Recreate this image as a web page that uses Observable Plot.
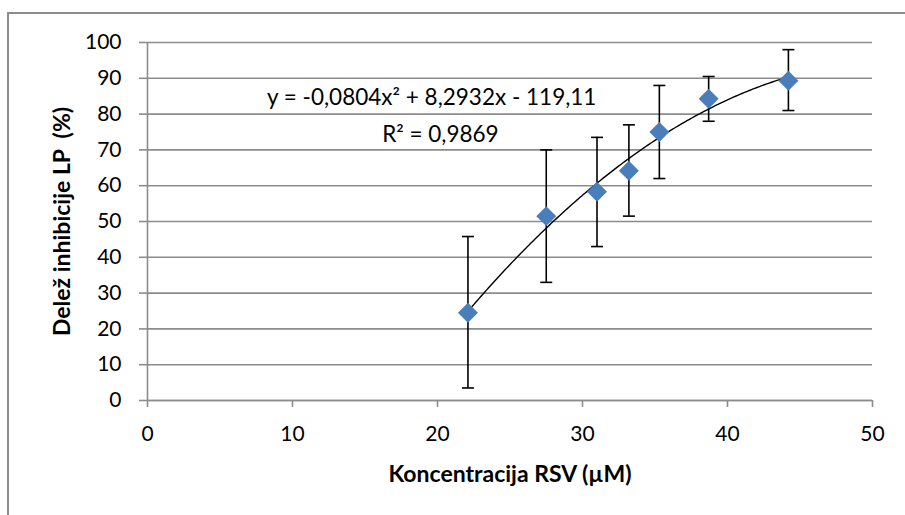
<!DOCTYPE html>
<html>
<head>
<meta charset="utf-8">
<script src="https://cdn.jsdelivr.net/npm/d3@7"></script>
<script src="https://cdn.jsdelivr.net/npm/@observablehq/plot@0.6"></script>
<style>
  html, body { margin: 0; padding: 0; background: #fff; }
  #wrap { position: relative; width: 905px; height: 515px; overflow: hidden; }
  #border { position: absolute; left: 7px; top: 12px; width: 910px; height: 520px;
            border-top: 2px solid #8c8c8c; border-left: 2px solid #8c8c8c; box-sizing: border-box; }
  #chart { position: absolute; left: 0; top: 0; }
</style>
</head>
<body>
<div id="wrap"><div id="border"></div><div id="chart"></div></div>
<script>
// Data
const concentration = [22.1, 27.5, 31.0, 33.2, 35.3, 38.7, 44.2];
const inhibition    = [24.5, 51.5, 58.3, 64.2, 75.0, 84.3, 89.3];
const errLow        = [3.5, 33.0, 43.0, 51.5, 62.0, 78.0, 81.0];
const errHigh       = [45.8, 70.0, 73.5, 77.0, 88.0, 90.5, 98.0];
// Polynomial trendline shown on the chart: y = a x^2 + b x + c
const trendCoef = [-0.0804, 8.2932, -119.11];
const xTicks = [0, 10, 20, 30, 40, 50];
const yTicks = [0, 10, 20, 30, 40, 50, 60, 70, 80, 90, 100];
const equationLines = ["y = -0,0804x\u00B2 + 8,2932x - 119,11", "R\u00B2 = 0,9869"];

const points = concentration.map((x, i) => ({x, y: inhibition[i], lo: errLow[i], hi: errHigh[i]}));
const xMin = d3.min(concentration), xMax = d3.max(concentration);
const trend = d3.range(0, 201).map(k => {
  const x = xMin + (xMax - xMin) * k / 200;
  return {x, y: trendCoef[0] * x * x + trendCoef[1] * x + trendCoef[2]};
});

const cap = { draw(ctx) { ctx.moveTo(-6, 0); ctx.lineTo(6, 0); } };
const gridColor = "#8c8c8c";
const font = "Lato, 'Open Sans', sans-serif";

const plot = Plot.plot({
  width: 905,
  height: 515,
  marginLeft: 147,
  marginRight: 33,
  marginTop: 42,
  marginBottom: 115,
  style: { fontFamily: font, fontSize: "21px", color: "#000", background: "transparent", overflow: "visible" },
  x: { domain: [0, 50], ticks: xTicks },
  y: { domain: [0, 100], ticks: yTicks },
  marks: [
    Plot.gridY(yTicks, { stroke: gridColor, strokeOpacity: 1, strokeWidth: 1.6 }),
    Plot.ruleX([0], { stroke: gridColor, strokeWidth: 1.6 }),
    Plot.ruleY([0], { stroke: gridColor, strokeWidth: 1.6 }),
    Plot.axisY(yTicks, { tickSize: 8, tickPadding: 18, stroke: gridColor, strokeWidth: 1.6, fontSize: 21, label: null }),
    Plot.axisX(xTicks, { tickSize: 7, tickPadding: 19, stroke: gridColor, strokeWidth: 1.6, fontSize: 21, label: null }),
    Plot.ruleX(points, { x: "x", y1: "lo", y2: "hi", stroke: "#000", strokeWidth: 1.6 }),
    Plot.dot(points, { x: "x", y: "lo", symbol: cap, stroke: "#000", strokeWidth: 1.6 }),
    Plot.dot(points, { x: "x", y: "hi", symbol: cap, stroke: "#000", strokeWidth: 1.6 }),
    Plot.line(trend, { x: "x", y: "y", stroke: "#000", strokeWidth: 1.4, curve: "linear" }),
    Plot.dot(points, { x: "x", y: "y", symbol: "diamond2", r: 9, fill: "#4a7ebb", stroke: "none" }),
    Plot.text([equationLines[0]], { x: 19.6, y: 84.5, text: d => d, fontSize: 22.5, textAnchor: "middle" }),
    Plot.text([equationLines[1]], { x: 20.2, y: 74.3, text: d => d, fontSize: 22.5, textAnchor: "middle" }),
    Plot.text(["Delež inhibicije LP  (%)"], { frameAnchor: "left", dx: -85, text: d => d, rotate: -90, textAnchor: "middle", lineAnchor: "middle", fontSize: 23, fontWeight: "bold" }),
    Plot.text(["Koncentracija RSV (\u00B5M)"], { frameAnchor: "bottom", dy: 74, text: d => d, textAnchor: "middle", lineAnchor: "middle", fontSize: 23, fontWeight: "bold" })
  ]
});
document.getElementById("chart").appendChild(plot);
</script>
</body>
</html>
